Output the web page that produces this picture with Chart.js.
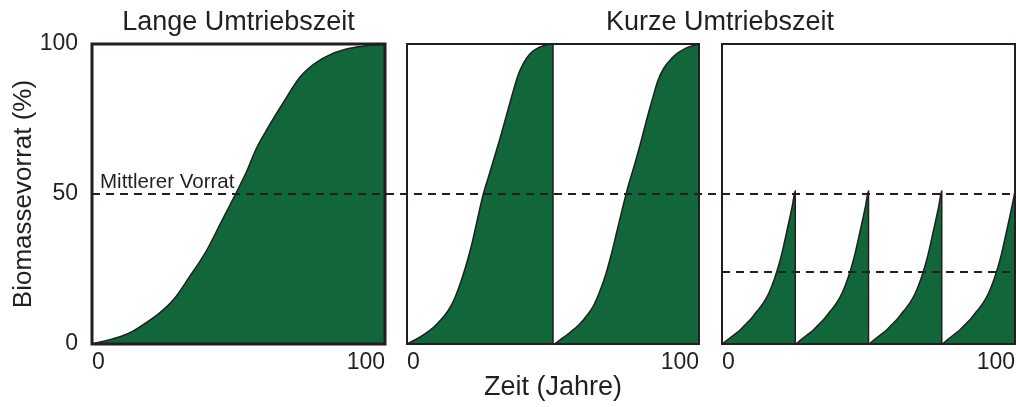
<!DOCTYPE html>
<html>
<head>
<meta charset="utf-8">
<title>Umtriebszeit und Biomassevorrat</title>
<script src="https://cdn.jsdelivr.net/npm/chart.js"></script>
<style>
  html, body { margin: 0; padding: 0; background: #fff; }
  #wrap { position: relative; width: 1016px; height: 407px; overflow: hidden; }
  .panel { position: absolute; top: 0; height: 407px; }
  #p1 { left: 0; width: 396px; }
  #p2 { left: 396px; width: 316px; }
  #p3 { left: 712px; width: 308px; }
  #shortTitle {
    position: absolute; left: 570px; width: 300px; top: 6px;
    height: 31px; line-height: 31px; text-align: center; white-space: nowrap;
    font: 27px 'Liberation Sans', Arial, Helvetica, sans-serif; color: #231f20;
  }
</style>
</head>
<body>
<div id="wrap">
  <div class="panel" id="p1"><canvas id="c1"></canvas></div>
  <div class="panel" id="p2"><canvas id="c2"></canvas></div>
  <div class="panel" id="p3"><canvas id="c3"></canvas></div>
  <div id="shortTitle">Kurze Umtriebszeit</div>
</div>
<script>
// tick labels
const xTicks = [0, 100];
const yTicks = [0, 50, 100];

// Lange Umtriebszeit: ein Zyklus über 100 Jahre
const longX = [0, 5, 10, 14, 18, 23, 28, 33, 39, 44, 49, 53, 56, 60, 65, 71, 76, 82, 88, 94, 100];
const longY = [0, 1.2, 2.6, 4.3, 6.8, 10.3, 15, 22, 31, 40.5, 50, 58, 65, 72, 80, 89, 93.5, 96.8, 98.6, 99.5, 100];

// Kurze Umtriebszeit: zwei Zyklen
const shortX = [0, 3, 6, 9, 12, 14, 16, 18, 20, 22, 24, 26, 28, 30, 32, 34, 36, 38, 40, 42, 44, 47, 50,
                50, 53, 56, 59, 62, 64, 66, 68, 70, 72, 74, 76, 78, 80, 82, 84, 86, 88, 90, 92, 94, 97, 100];
const shortY = [0, 1.5, 3.3, 5.5, 8.5, 11, 14.5, 19.5, 25.5, 32.5, 41, 49.5, 56, 62.5, 69, 76, 83, 89.5, 93.8, 96.6, 98.2, 99.5, 100,
                0, 1.8, 4, 6.5, 10, 13, 17.5, 23, 30, 38, 46, 53.5, 60, 67, 74.5, 81.5, 88, 92, 94.5, 96.5, 97.8, 99.2, 100];

// sehr kurze Umtriebszeit: vier Zyklen
const teethX = [0, 2, 4, 6, 8, 10, 12, 14, 16, 18, 20, 22, 24, 25,
                25, 27, 29, 31, 33, 35, 37, 39, 41, 43, 45, 47, 49, 50,
                50, 52, 54, 56, 58, 60, 62, 64, 66, 68, 70, 72, 74, 75,
                75, 77, 79, 81, 83, 85, 87, 89, 91, 93, 95, 97, 99, 100];
const teethY = [0, 1.5, 3, 4.5, 6.5, 8.5, 11, 13.5, 17, 22, 28.5, 37, 46, 51,
                0, 1.5, 3, 4.5, 6.5, 8.5, 11, 13.5, 17, 22, 28.5, 37, 46, 51,
                0, 1.5, 3, 4.5, 6.5, 8.5, 11, 13.5, 17, 22, 28.5, 37, 46, 51,
                0, 1.5, 3, 4.5, 6.5, 8.5, 11, 13.5, 17, 22, 28.5, 37, 46, 51];

// mittlerer Vorrat
const meanStock = 50;
const meanStockTeeth = 24;
const meanLabel = 'Mittlerer Vorrat';

const ink = '#231f20';
const green = '#11663a';
const fontFamily = "'Liberation Sans', Arial, Helvetica, sans-serif";
Chart.defaults.font.family = fontFamily;
Chart.defaults.color = ink;

// Rahmen, gestrichelte Linien und Beschriftung
const panelDeco = {
    id: 'panelDeco',
    afterDatasetsDraw(chart, args, opts) {
        const { ctx, chartArea: a, scales: { y } } = chart;
        const offset = chart.canvas.parentNode.offsetLeft;
        ctx.save();
        ctx.strokeStyle = ink;
        ctx.lineWidth = opts.frame;
        ctx.strokeRect(a.left, a.top, a.right - a.left, a.bottom - a.top);

        ctx.lineWidth = 2;
        ctx.setLineDash([8, 6]);
        opts.lines.forEach(l => {
            const py = y.getPixelForValue(l.value);
            const x0 = l.fromEdge ? 0 : a.left;
            const x1 = l.toEdge ? chart.width : a.right;
            ctx.lineDashOffset = offset + x0 - 92;
            ctx.beginPath();
            ctx.moveTo(x0, py);
            ctx.lineTo(x1, py);
            ctx.stroke();
        });

        if (opts.label) {
            ctx.setLineDash([]);
            ctx.fillStyle = ink;
            ctx.font = '20.5px ' + fontFamily;
            ctx.textBaseline = 'alphabetic';
            ctx.fillText(opts.label, a.left + 8, y.getPixelForValue(meanStock) - 6);
        }
        ctx.restore();
    }
};

function curve(xs, ys) {
    return {
        data: xs.map((x, i) => ({ x: x, y: ys[i] })),
        borderColor: ink,
        borderWidth: 1.5,
        backgroundColor: green,
        fill: 'origin',
        pointRadius: 0,
        cubicInterpolationMode: 'monotone'
    };
}

function scalesFor(showY, xTitle) {
    return {
        x: {
            type: 'linear', min: 0, max: 100,
            afterBuildTicks: s => { s.ticks = xTicks.map(v => ({ value: v })); },
            afterFit: s => { s.height = 63; },
            grid: { display: false, drawTicks: false },
            border: { display: false },
            ticks: { align: 'inner', padding: 5, maxRotation: 0, font: { size: 23 } },
            title: { display: !!xTitle, text: xTitle || '', font: { size: 27 }, padding: { top: 0, bottom: 3 } }
        },
        y: {
            type: 'linear', min: 0, max: 100, display: showY,
            afterBuildTicks: s => { s.ticks = yTicks.map(v => ({ value: v })); },
            afterFit: s => { s.width = showY ? 92 : 0; },
            grid: { display: false, drawTicks: false },
            border: { display: false },
            ticks: { padding: 14, font: { size: 23 } },
            title: { display: true, text: 'Biomassevorrat (%)', font: { size: 26 }, padding: { top: 8, bottom: 0 } }
        }
    };
}

function makePanel(id, xs, ys, opts) {
    return new Chart(document.getElementById(id), {
        type: 'line',
        data: { datasets: [curve(xs, ys)] },
        options: {
            responsive: true,
            maintainAspectRatio: false,
            animation: false,
            layout: { padding: opts.padding },
            scales: scalesFor(opts.showY, opts.xTitle),
            plugins: {
                legend: { display: false },
                tooltip: { enabled: false },
                title: opts.title
                    ? { display: true, text: opts.title, fullSize: false, color: ink,
                        font: { size: 27, weight: 'normal' }, padding: { top: 6, bottom: 5.6 } }
                    : { display: false },
                panelDeco: opts.deco
            }
        },
        plugins: [panelDeco]
    });
}

makePanel('c1', longX, longY, {
    padding: { left: 0, right: 11, top: 0, bottom: 0 },
    showY: true,
    title: 'Lange Umtriebszeit',
    deco: { frame: 3, label: meanLabel, lines: [{ value: meanStock, fromEdge: false, toEdge: true }] }
});

makePanel('c2', shortX, shortY, {
    padding: { left: 11, right: 13, top: 44, bottom: 0 },
    showY: false,
    xTitle: 'Zeit (Jahre)',
    deco: { frame: 2, lines: [{ value: meanStock, fromEdge: true, toEdge: true }] }
});

makePanel('c3', teethX, teethY, {
    padding: { left: 10, right: 1, top: 44, bottom: 0 },
    showY: false,
    deco: { frame: 2, lines: [
        { value: meanStock, fromEdge: true, toEdge: false },
        { value: meanStockTeeth, fromEdge: false, toEdge: false }
    ] }
});
</script>
</body>
</html>
